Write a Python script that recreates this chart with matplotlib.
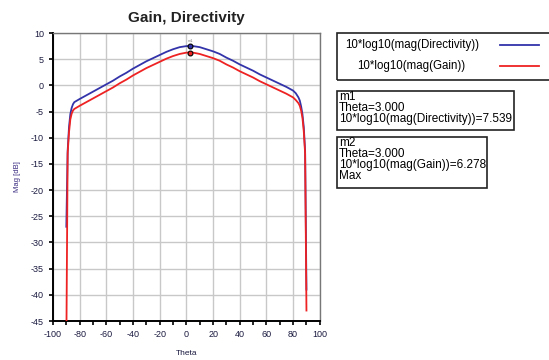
import matplotlib
matplotlib.use('Agg')
import matplotlib.pyplot as plt
from matplotlib.patches import Rectangle

plt.rcParams['font.family'] = ['Liberation Sans', 'DejaVu Sans']
plt.rcParams['axes.unicode_minus'] = False

# far-field cut, dB values
theta = [-90, -89, -88, -87, -86, -85, -84, -82, -80, -75, -70, -65, -60, -55, -50,
         -45, -40, -35, -30, -25, -20, -15, -10, -5, 0, 3, 5, 10, 15, 20, 25, 30,
         35, 40, 45, 50, 55, 60, 65, 70, 75, 80, 82, 84, 85, 86, 87, 88, 89, 90]
directivity = [-27.0, -12.5, -8.0, -5.5, -4.3, -3.6, -3.2, -2.9, -2.6, -1.9, -1.2,
               -0.5, 0.2, 0.9, 1.7, 2.4, 3.2, 3.9, 4.6, 5.2, 5.8, 6.4, 6.9, 7.3,
               7.5, 7.539, 7.5, 7.3, 6.9, 6.5, 6.0, 5.3, 4.7, 4.0, 3.4, 2.8, 2.1,
               1.5, 0.9, 0.3, -0.3, -1.0, -1.5, -2.3, -2.9, -4.0, -5.5, -8.0, -12.5, -39.0]
gain = [-50.0, -13.0, -9.0, -6.5, -5.4, -4.8, -4.5, -4.2, -3.9, -3.2, -2.5, -1.8,
        -1.1, -0.4, 0.4, 1.1, 1.9, 2.6, 3.3, 3.9, 4.5, 5.1, 5.6, 6.0, 6.25, 6.278,
        6.25, 6.0, 5.6, 5.2, 4.7, 4.0, 3.4, 2.7, 2.1, 1.5, 0.8, 0.2, -0.4, -1.0,
        -1.6, -2.3, -2.8, -3.4, -3.9, -4.8, -6.2, -8.8, -13.0, -43.0]

marker_theta = 3.0
marker_dir = 7.539
marker_gain = 6.278

fig = plt.figure(figsize=(5.49, 3.60), dpi=100)
ax = fig.add_axes([0.0965, 0.1083, 0.486, 0.8])

ax.plot(theta, directivity, color='#3333aa', lw=1.3, zorder=3)
ax.plot(theta, gain, color='#ee2222', lw=1.3, zorder=4)
ax.plot(marker_theta, marker_dir, 'o', ms=3.5, mfc='#3333aa', mec='black', mew=0.8, zorder=5)
ax.plot(marker_theta, marker_gain, 'o', ms=3.5, mfc='#ee2222', mec='black', mew=0.8, zorder=5)
ax.text(marker_theta, marker_dir + 0.6, 'm1', fontsize=3, color='#888888', ha='center', va='bottom')

ax.set_xlim(-100, 100)
ax.set_ylim(-45, 10)
ax.set_xticks(range(-100, 101, 20))
ax.set_xticks(range(-90, 100, 20), minor=True)
ax.set_yticks(range(-45, 11, 5))
ax.grid(True, which='major', color='#c8c8c8', lw=1.0)
ax.tick_params(axis='both', which='both', direction='out', labelsize=6.5,
               labelcolor='#1a1a40', width=1.2, length=3)
for s in ax.spines.values():
    s.set_linewidth(1.4)
ax.spines['top'].set_color('#777777')
ax.spines['right'].set_color('#777777')
ax.spines['top'].set_linewidth(1.0)
ax.spines['right'].set_linewidth(1.0)

ax.set_xlabel('Theta', fontsize=6, color='#1a1a40', labelpad=8)
ax.set_ylabel('Mag [dB]', fontsize=5.5, color='#3a2a80', labelpad=7)
ax.set_title('Gain, Directivity', fontsize=11, fontweight='bold', color='#222222', pad=8)

# legend box (runs off the right edge)
W, H = 549.0, 360.0
def box(x0, y0, x1, y1):
    fig.patches.append(Rectangle((x0 / W, 1 - y1 / H), (x1 - x0) / W, (y1 - y0) / H,
                                 transform=fig.transFigure, fill=False,
                                 edgecolor='#222222', lw=1.2))

box(337, 33, 560, 80)
fig.text(345 / W, 1 - 45 / H, '10*log10(mag(Directivity))', fontsize=8.3, va='center')
fig.text(357 / W, 1 - 66 / H, '10*log10(mag(Gain))', fontsize=8.3, va='center')
fig.lines.append(plt.Line2D([500 / W, 539 / W], [1 - 45 / H] * 2, color='#3333aa', lw=1.3,
                            transform=fig.transFigure))
fig.lines.append(plt.Line2D([500 / W, 539 / W], [1 - 66 / H] * 2, color='#ee2222', lw=1.3,
                            transform=fig.transFigure))

box(337, 91, 514, 130)
fig.text(339 / W, 1 - 91 / H, 'm1\nTheta=3.000\n10*log10(mag(Directivity))=7.539',
         fontsize=8.5, va='top', linespacing=0.88)
box(337, 137, 487, 188)
fig.text(339 / W, 1 - 137 / H, 'm2\nTheta=3.000\n10*log10(mag(Gain))=6.278\nMax',
         fontsize=8.5, va='top', linespacing=0.88)

fig.savefig('out.png', dpi=100)
